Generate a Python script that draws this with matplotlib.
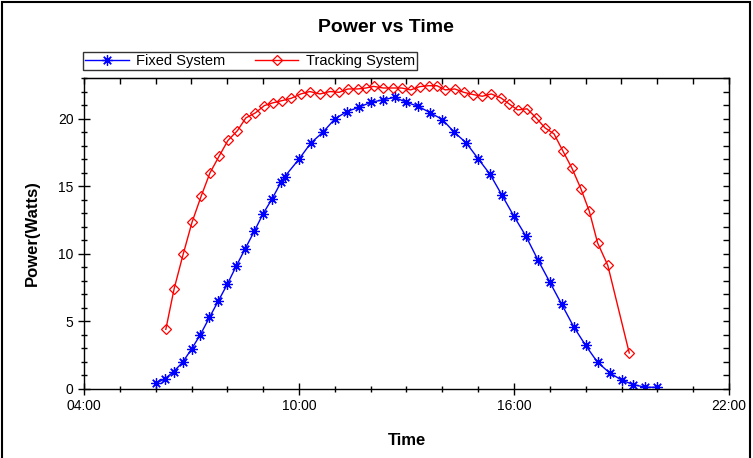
import matplotlib
matplotlib.use("Agg")
import matplotlib.pyplot as plt
from matplotlib.ticker import MultipleLocator, FuncFormatter, FixedLocator
from matplotlib.patches import Rectangle

plt.rcParams['font.family'] = ['Liberation Sans', 'DejaVu Sans']

fixed_times = ["06:00", "06:15", "06:30", "06:45", "07:00", "07:15", "07:30", "07:45",
               "08:00", "08:15", "08:30", "08:45", "09:00", "09:15", "09:30", "09:36",
               "10:00", "10:20", "10:40", "11:00", "11:20", "11:40", "12:00", "12:20",
               "12:40", "13:00", "13:20", "13:40", "14:00", "14:20", "14:40", "15:00",
               "15:20", "15:40", "16:00", "16:20", "16:40", "17:00", "17:20", "17:40",
               "18:00", "18:20", "18:40", "19:00", "19:20", "19:40", "20:00"]
fixed_power = [0.42, 0.74, 1.28, 1.97, 2.95, 4.03, 5.29, 6.52,
               7.75, 9.10, 10.38, 11.66, 12.97, 14.07, 15.30, 15.70,
               17.00, 18.20, 18.99, 19.97, 20.52, 20.83, 21.20, 21.38,
               21.57, 21.20, 20.90, 20.42, 19.93, 18.99, 18.20, 17.03,
               15.87, 14.32, 12.77, 11.30, 9.55, 7.90, 6.25, 4.60,
               3.22, 1.97, 1.20, 0.66, 0.32, 0.13, 0.13]

tracking_times = ["06:17", "06:31", "06:46", "07:01", "07:16", "07:31", "07:46", "08:01",
                  "08:17", "08:31", "08:47", "09:02", "09:16", "09:32", "09:47", "10:03",
                  "10:18", "10:35", "10:52", "11:07", "11:22", "11:38", "11:52", "12:05",
                  "12:21", "12:37", "12:52", "13:07", "13:22", "13:37", "13:51", "14:05",
                  "14:21", "14:36", "14:52", "15:07", "15:22", "15:38", "15:52", "16:06",
                  "16:22", "16:37", "16:52", "17:07", "17:22", "17:37", "17:52", "18:06",
                  "18:20", "18:37", "19:13"]
tracking_power = [4.41, 7.43, 9.96, 12.35, 14.24, 15.99, 17.20, 18.38,
                  19.11, 20.05, 20.42, 20.96, 21.16, 21.33, 21.50, 21.82,
                  22.00, 21.82, 22.00, 21.94, 22.19, 22.19, 22.26, 22.38,
                  22.26, 22.26, 22.26, 22.12, 22.36, 22.43, 22.43, 22.12,
                  22.19, 21.94, 21.77, 21.65, 21.82, 21.53, 21.08, 20.64,
                  20.72, 20.05, 19.31, 18.87, 17.59, 16.33, 14.81, 13.16,
                  10.80, 9.15, 2.66]

x_major_labels = ["04:00", "10:00", "16:00", "22:00"]
y_major = [0, 5, 10, 15, 20]


def to_hours(s):
    h, m = s.split(":")
    return int(h) + int(m) / 60.0


fx = [to_hours(t) for t in fixed_times]
tx = [to_hours(t) for t in tracking_times]
xmaj = [to_hours(t) for t in x_major_labels]

fig = plt.figure(figsize=(7.53, 4.58), dpi=100)
ax = fig.add_axes([84 / 753, 1 - 389 / 458, (729 - 84) / 753, (389 - 78) / 458])

ax.plot(fx, fixed_power, color='blue', lw=1, marker=(8, 2, 0), ms=7.5, mew=0.9,
        label='Fixed System')
ax.plot(tx, tracking_power, color='red', lw=1, marker='D', ms=5, mfc='none',
        mew=0.9, label='Tracking System')

ax.set_xlim(4, 22)
ax.set_ylim(0, 23)
ax.xaxis.set_major_locator(FixedLocator(xmaj))
ax.xaxis.set_minor_locator(MultipleLocator(1))
ax.xaxis.set_major_formatter(FuncFormatter(lambda v, p: "%02d:00" % int(round(v))))
ax.yaxis.set_major_locator(FixedLocator(y_major))
ax.yaxis.set_minor_locator(MultipleLocator(1))

ax.tick_params(which='major', direction='inout', length=9, width=1, labelsize=10,
               colors='black', pad=3)
ax.tick_params(which='minor', direction='inout', length=5, width=1)

# top / right inward ticks
sx = ax.secondary_xaxis('top')
sx.xaxis.set_major_locator(MultipleLocator(1))
sx.tick_params(direction='in', length=4, width=1, labeltop=False)
sy = ax.secondary_yaxis('right')
sy.yaxis.set_major_locator(MultipleLocator(1))
sy.tick_params(direction='in', length=4, width=1, labelright=False)

for sp in ax.spines.values():
    sp.set_linewidth(1)
    sp.set_color('black')

ax.set_xlabel('Time', fontsize=12, fontweight='bold', labelpad=14)
ax.set_ylabel('Power(Watts)', fontsize=12, fontweight='bold', labelpad=13)

fig.text(386 / 753, 1 - 27 / 458, 'Power vs Time', fontsize=14, fontweight='bold',
         ha='center', va='center')

leg = fig.legend(loc='lower left', bbox_to_anchor=(83 / 753, 1 - 70 / 458), ncol=2,
                 frameon=True, fancybox=False, edgecolor='black', fontsize=10.5,
                 handlelength=3.0, borderpad=0.15, columnspacing=2.0,
                 handletextpad=0.5, borderaxespad=0)
leg.get_frame().set_linewidth(1)

fig.patches.append(Rectangle((0.002, -0.1), 0.994, 1.096, transform=fig.transFigure,
                             fill=False, edgecolor='black', linewidth=1.5))

fig.savefig('out.png', dpi=100)
